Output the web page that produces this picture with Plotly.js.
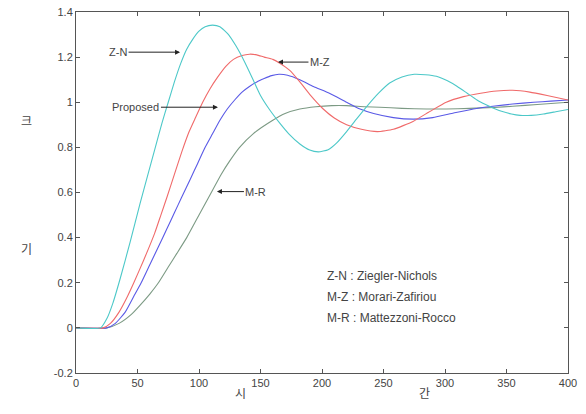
<!DOCTYPE html>
<html>
<head>
<meta charset="utf-8">
<script src="https://cdn.plot.ly/plotly-3.0.1.min.js"></script>
<style>html,body{margin:0;padding:0;background:#fff;}#chart{width:586px;height:414px;}</style>
</head>
<body>
<div id="chart"></div>
<script>
// Z-N : Ziegler-Nichols
const znT = [0,20,25,30,36,44,52,58,64,70,75,80,85,90,95,100,105,111,117,124,130,137,144,150,157,166,173,182,190,197,205,212,220,228,237,246,255,265,275,284,293,302,310,318,326,333,339,346,354,361,370,380,390,400];
const znV = [0,0,0.04,0.11,0.22,0.38,0.55,0.67,0.79,0.91,1.0,1.09,1.17,1.235,1.28,1.315,1.335,1.342,1.335,1.30,1.25,1.18,1.10,1.03,0.97,0.905,0.86,0.815,0.788,0.78,0.79,0.82,0.87,0.925,0.985,1.04,1.085,1.112,1.124,1.122,1.115,1.095,1.07,1.04,1.01,0.99,0.975,0.96,0.948,0.942,0.942,0.948,0.958,0.968];
// M-Z : Morari-Zafiriou
const mzT = [0,22,28,35,41,47,55,64,69,74,80,86,92,97,103,109,115,122,128,135,141,147,153,160,166,174,182,190,201,210,220,232,245,258,274,288,301,315,329,342,355,369,383,400];
const mzV = [0,0,0.02,0.07,0.13,0.2,0.3,0.42,0.5,0.58,0.68,0.78,0.87,0.93,1.0,1.06,1.11,1.16,1.19,1.207,1.213,1.21,1.2,1.19,1.172,1.14,1.09,1.035,0.97,0.93,0.9,0.88,0.87,0.88,0.915,0.96,1.0,1.025,1.04,1.05,1.053,1.045,1.03,1.01];
// Proposed
const prT = [0,25,32,40,47,53,60,67,74,80,86,93,99,105,111,117,123,129,135,141,147,153,159,165,172,182,193,206,220,231,242,258,274,290,307,323,339,355,372,386,400];
const prV = [0,0,0.02,0.07,0.14,0.2,0.28,0.36,0.44,0.51,0.58,0.66,0.73,0.8,0.86,0.92,0.97,1.01,1.045,1.07,1.09,1.105,1.118,1.124,1.12,1.1,1.07,1.04,1.0,0.97,0.95,0.932,0.925,0.932,0.952,0.97,0.982,0.992,1.0,1.005,1.01];
// M-R : Mattezzoni-Rocco
const mrT = [0,25,35,45,52,60,67,75,82,90,97,103,111,118,125,133,144,160,170,182,195,208,220,235,247,265,285,301,320,340,355,375,400];
const mrV = [0,0,0.02,0.06,0.1,0.15,0.2,0.27,0.33,0.4,0.47,0.53,0.61,0.68,0.74,0.8,0.86,0.92,0.95,0.97,0.98,0.985,0.985,0.98,0.978,0.973,0.97,0.97,0.973,0.977,0.982,0.99,1.0];

const xTicks = [0,50,100,150,200,250,300,350,400];
const yTicks = [-0.2,0,0.2,0.4,0.6,0.8,1,1.2,1.4];
const yTickText = ['-0.2','0','0.2','0.4','0.6','0.8','1','1.2','1.4'];
const legendLines = ['Z-N : Ziegler-Nichols','M-Z : Morari-Zafiriou','M-R : Mattezzoni-Rocco'];

const mk = (x, y, c) => ({x, y, type:'scatter', mode:'lines', line:{color:c, width:1.1, shape:'spline', smoothing:0.5}, hoverinfo:'skip'});
const traces = [
  mk(mrT, mrV, '#7c9a84'),
  mk(prT, prV, '#5a5ae6'),
  mk(mzT, mzV, '#f06a6a'),
  mk(znT, znV, '#4cc8c8')
];

const fnt = {family:'Liberation Sans, Arial, sans-serif', size:11, color:'#444'};
const arr = (x, y, text, ax) => ({x, y, xref:'x', yref:'y', text, ax, ay:0, showarrow:true, arrowhead:2, arrowsize:1, arrowwidth:1, arrowcolor:'#222', standoff:0, font:fnt});
const lf = {family:'Liberation Sans, Arial, sans-serif', size:12, color:'#444'};
const kf = {family:'Noto Sans CJK KR, sans-serif', size:12, color:'#444'};
const annotations = [
  arr(84.6, 1.222, 'Z-N', -62),
  arr(115.4, 0.978, 'Proposed', -82),
  arr(164.2, 1.178, 'M-Z', 42),
  arr(114.6, 0.604, 'M-R', 39),
  {xref:'paper', yref:'paper', x:(325-76)/492, y:(373-276)/361, xanchor:'left', yanchor:'middle', showarrow:false, text:legendLines[0], font:lf},
  {xref:'paper', yref:'paper', x:(325-76)/492, y:(373-297)/361, xanchor:'left', yanchor:'middle', showarrow:false, text:legendLines[1], font:lf},
  {xref:'paper', yref:'paper', x:(325-76)/492, y:(373-318)/361, xanchor:'left', yanchor:'middle', showarrow:false, text:legendLines[2], font:lf},
  {xref:'paper', yref:'paper', x:(233-76)/492, y:(373-403)/361, showarrow:false, text:'시', font:kf},
  {xref:'paper', yref:'paper', x:(432-76)/492, y:(373-403)/361, showarrow:false, text:'간', font:kf},
  {xref:'paper', yref:'paper', x:(19-76)/492, y:(373-110)/361, showarrow:false, text:'크', font:kf},
  {xref:'paper', yref:'paper', x:(19-76)/492, y:(373-248)/361, showarrow:false, text:'기', font:kf}
];

const axisCommon = {showgrid:false, zeroline:false, showline:true, linecolor:'#555', linewidth:1, mirror:'ticks', ticks:'inside', ticklen:4, tickcolor:'#555', tickfont:fnt};

Plotly.newPlot('chart', traces, {
  width:586, height:414,
  margin:{l:76, r:18, t:12, b:41},
  paper_bgcolor:'#fff', plot_bgcolor:'#fff',
  showlegend:false,
  xaxis:Object.assign({}, axisCommon, {range:[0,400], tickvals:xTicks, ticktext:xTicks.map(String)}),
  yaxis:Object.assign({}, axisCommon, {range:[-0.2,1.4], tickvals:yTicks, ticktext:yTickText}),
  annotations
}, {staticPlot:true});
</script>
</body>
</html>
